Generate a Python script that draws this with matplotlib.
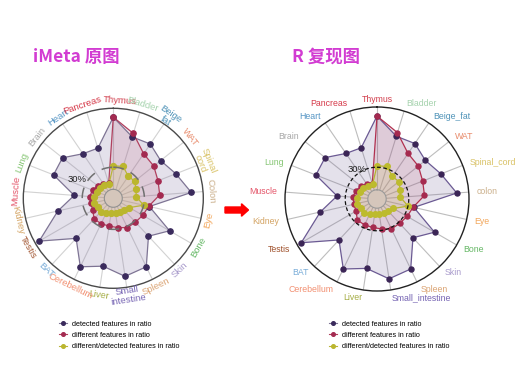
import numpy as np
import matplotlib
matplotlib.use("Agg")
import matplotlib.pyplot as plt
from matplotlib.lines import Line2D
from matplotlib.patches import FancyArrow

# ---------------- data ----------------
categories = ["Thymus", "Bladder", "Beige_fat", "WAT", "Spinal_cord", "colon", "Eye",
              "Bone", "Skin", "Spleen", "Small_intestine", "Liver", "Cerebellum", "BAT",
              "Testis", "Kidney", "Muscle", "Lung", "Brain", "Heart", "Pancreas"]
orig_labels = ["Thymus", "Bladder", "Beige\nfat", "WAT", "Spinal\ncord", "Colon", "Eye",
               "Bone", "Skin", "Spleen", "Small\nintestine", "Liver", "Cerebellum", "BAT",
               "Testis", "Kidney", "Muscle", "Lung", "Brain", "Heart", "Pancreas"]
detected = [0.98, 0.75, 0.77, 0.70, 0.79, 0.94, 0.38, 0.76, 0.58, 0.91, 0.95,
            0.81, 0.91, 0.62, 1.04, 0.65, 0.41, 0.75, 0.76, 0.61, 0.59]
different = [0.98, 0.80, 0.61, 0.58, 0.53, 0.51, 0.37, 0.34, 0.32, 0.32, 0.28,
             0.26, 0.26, 0.26, 0.20, 0.19, 0.20, 0.18, 0.15, 0.12, 0.09]
ratio = [0.32, 0.33, 0.24, 0.25, 0.21, 0.19, 0.30, 0.13, 0.10, 0.09, 0.08,
         0.08, 0.10, 0.13, 0.12, 0.15, 0.14, 0.12, 0.11, 0.09, 0.08]
label_colors = ["#d2404e", "#a6d3ae", "#4f93b8", "#e88a6a", "#d9c266", "#cbb08c", "#f2a65a",
                "#66b866", "#a99bcc", "#dba474", "#7563b3", "#a5ad45", "#f29072", "#78acd8",
                "#a0522d", "#d4a464", "#e4566a", "#86c674", "#a8a8a8", "#5595c4", "#d63a4a"]
series_names = ["detected features in ratio", "different features in ratio",
                "different/detected features in ratio"]
grid_min, grid_mid, grid_max = 0.0, 0.3, 1.1
titles = ["iMeta 原图", "R 复现图"]

LATIN = "Liberation Sans"
CJK = ["Noto Sans CJK SC", "DejaVu Sans"]

offset = (grid_max - grid_min) / 9.0
r_out = grid_max + offset
n = len(categories)
angles = np.arange(n) * 2 * np.pi / n
ang_c = np.append(angles, 2 * np.pi)

fig = plt.figure(figsize=(5.2, 3.9), dpi=100)
fig.patch.set_facecolor("white")


def radar(rect, st):
    ax = fig.add_axes(rect, projection="polar")
    ax.set_theta_zero_location("N")
    ax.set_theta_direction(-1)
    ax.set_ylim(0, r_out)
    ax.set_xticks([])
    ax.set_yticks([])
    ax.grid(False)
    ax.spines["polar"].set_color(st["outer"])
    ax.spines["polar"].set_linewidth(1.0)
    full = np.linspace(0, 2 * np.pi, 300)
    # spokes
    ax.vlines(angles, offset, r_out, colors=st["spoke"], linewidth=0.8, zorder=1)
    # series
    specs = [(detected, st["c_det_line"], st["c_det_mk"], st["c_det_fill"], st["a_det"], st["ms"]),
             (different, st["c_dif_line"], st["c_dif_mk"], st["c_dif_fill"], st["a_dif"], st["ms"]),
             (ratio, st["c_rat_line"], st["c_rat_mk"], st["c_rat_fill"], st["a_rat"], st["ms"] + 0.4)]
    for k, (vals, lc, mc, fc, fa, ms) in enumerate(specs):
        r = np.append(np.array(vals), vals[0]) + offset
        ax.fill(ang_c, r, facecolor=fc, alpha=fa, zorder=2 + k, edgecolor="none")
        ax.plot(ang_c, r, color=lc, linewidth=0.9, zorder=5 + k)
        ax.plot(angles, np.array(vals) + offset, linestyle="none", marker="o",
                markersize=ms, markerfacecolor=mc, markeredgecolor=mc, zorder=8 + k)
    # circles
    ax.fill(full, np.full_like(full, grid_min + offset), facecolor=st["inner_fill"], alpha=0.3,
            zorder=4, edgecolor="none")
    ax.plot(full, np.full_like(full, grid_min + offset), color=st["inner"], linewidth=0.8, zorder=12)
    ax.plot(full, np.full_like(full, grid_mid + offset), color=st["mid"], linewidth=st["mid_lw"],
            dashes=st["dashes"], zorder=12)
    ax.text(np.deg2rad(st["pct_ang"]), st["pct_r"] * r_out, "30%", fontsize=6.8,
            family=LATIN, color="#222222", ha="center", va="center", zorder=13)
    return ax


left_style = dict(outer="#4a4a4a", spoke="#d2d2d2",
                  c_det_line="#7e7494", c_det_mk="#3a2a5c", c_det_fill="#7a6a9e", a_det=0.2,
                  c_dif_line="#b0405e", c_dif_mk="#a32a50", c_dif_fill="#c05070", a_dif=0.15,
                  c_rat_line="#b9b53a", c_rat_mk="#bbb62e", c_rat_fill="#d0c860", a_rat=0.2,
                  ms=3.8, inner="#909090", inner_fill="#c8c0b0", mid="#707070", mid_lw=1.1,
                  dashes=(7, 5), pct_ang=298, pct_r=40.8 / 90)
right_style = dict(outer="#222222", spoke="#bdbdbd",
                   c_det_line="#6b5a93", c_det_mk="#3b2556", c_det_fill="#7a6a9e", a_det=0.2,
                   c_dif_line="#b0304f", c_dif_mk="#a52a4f", c_dif_fill="#c05070", a_dif=0.15,
                   c_rat_line="#b5b330", c_rat_mk="#bdbb2e", c_rat_fill="#d0c860", a_rat=0.2,
                   ms=3.6, inner="#999999", inner_fill="#c8c0b0", mid="#111111", mid_lw=0.9,
                   dashes=(3, 2), pct_ang=325.6, pct_r=36 / 92)

axL = radar([23.3 / 520, (390 - 198.3 - 90) / 390, 180 / 520, 180 / 390], left_style)
axR = radar([285 / 520, (390 - 199 - 92) / 390, 184 / 520, 184 / 390], right_style)

# labels of original (rotated along the circle)
nudge = {"Thymus": 4.0, "Pancreas": -1.5}
for th, lab, col in zip(angles, orig_labels, label_colors):
    d = np.rad2deg(th) + nudge.get(lab, 0.0)
    rot = -d if (d <= 90 or d >= 270) else 180 - d
    axL.text(np.deg2rad(d), r_out * 98 / 90, lab, rotation=rot, rotation_mode="anchor",
             ha="center", va="center", fontsize=6.8, color=col, family=LATIN, linespacing=0.95)

# labels of R version (horizontal)
for th, lab, col in zip(angles, categories, label_colors):
    s = np.sin(th)
    ha = "center" if abs(s) < 0.05 else ("left" if s > 0 else "right")
    axR.text(th, r_out * 100 / 92, lab, ha=ha, va="center", fontsize=6.3, color=col,
             family=LATIN)

# titles
fig.text(33 / 520, 1 - 57 / 390, titles[0], fontsize=12.5, fontweight="bold", color="#d23cd2",
         family=CJK, ha="left", va="center")
fig.text(292 / 520, 1 - 57 / 390, titles[1], fontsize=12.5, fontweight="bold", color="#d23cd2",
         family=CJK, ha="left", va="center")

# legends
handles = [Line2D([], [], color=left_style["c_det_line"], marker="o", markersize=2.6,
                  markerfacecolor=left_style["c_det_mk"], markeredgecolor=left_style["c_det_mk"], lw=0.8),
           Line2D([], [], color=left_style["c_dif_line"], marker="o", markersize=2.6,
                  markerfacecolor=left_style["c_dif_mk"], markeredgecolor=left_style["c_dif_mk"], lw=0.8),
           Line2D([], [], color=left_style["c_rat_line"], marker="o", markersize=2.6,
                  markerfacecolor=left_style["c_rat_mk"], markeredgecolor=left_style["c_rat_mk"], lw=0.8)]
for x0 in (59 / 520, 329 / 520):
    fig.legend(handles, series_names, loc="upper left", bbox_to_anchor=(x0, 1 - 320.5 / 390),
               frameon=False, prop={"family": LATIN, "size": 5.2}, handlelength=1.1,
               handletextpad=0.7, labelspacing=0.6, borderpad=0, borderaxespad=0)

# red arrow between the panels
fig.patches.append(FancyArrow(2.25, 1.80, 0.235, 0, width=0.06, head_width=0.125,
                              head_length=0.07, length_includes_head=True, color="#ff0000",
                              transform=fig.dpi_scale_trans))

fig.savefig("out.png", dpi=100, facecolor="white")
